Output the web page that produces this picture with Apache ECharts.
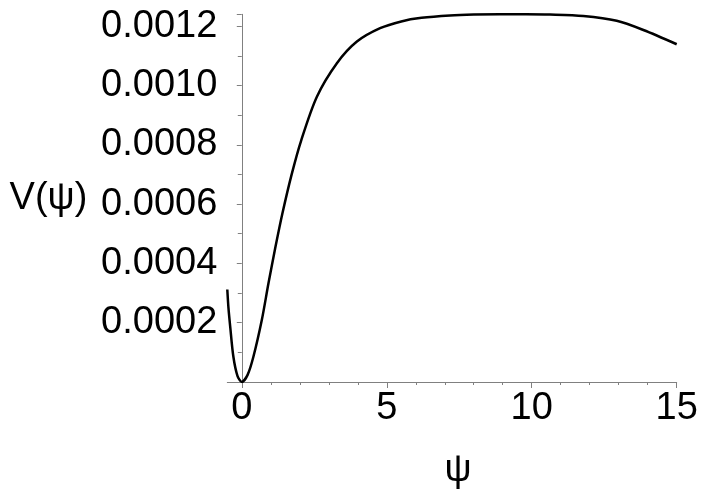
<!DOCTYPE html>
<html>
<head>
<meta charset="utf-8">
<script src="https://cdn.jsdelivr.net/npm/echarts@6/dist/echarts.min.js"></script>
<style>html,body{margin:0;padding:0;background:#fff}#c{width:706px;height:494px}</style>
</head>
<body>
<div id="c"></div>
<script>
// data
const psi = [-0.5, -0.46, -0.40, -0.29, -0.15, 0, 0.2, 0.40, 0.69, 0.92, 1.15, 1.40, 1.72, 2.05, 2.59, 3.28, 3.97, 4.77, 5.5, 6.2, 7.18, 8.0, 8.9, 9.8, 10.63, 11.78, 12.93, 13.85, 15.0];
const V = [0.000312, 0.000250, 0.000187, 0.000085, 0.000021, 0, 0.000024, 0.000085, 0.000209, 0.000333, 0.000450, 0.000568, 0.000700, 0.000815, 0.000962, 0.001075, 0.001148, 0.001193, 0.001216, 0.001228, 0.001236, 0.001239, 0.001240, 0.001240, 0.001239, 0.001234, 0.001218, 0.001187, 0.001139];
const xLabels = [0, 5, 10, 15];
const xMinorTicks = [0,1,2,3,4,5,6,7,8,9,10,11,12,13,14,15];
const yName = 'V(ψ)';
const xName = 'ψ';

const FONT = '"Liberation Sans", Arial, Helvetica, sans-serif';
const AX = '#808080';
const chart = echarts.init(document.getElementById('c'), null, {renderer: 'canvas'});
chart.setOption({
  animation: false,
  backgroundColor: '#fff',
  grid: {left: 227.3, right: 29.3, top: 14.3, bottom: 112, outerBoundsMode: 'none', containLabel: false},
  xAxis: [{
    type: 'value', min: -0.5, max: 15,
    name: xName, nameLocation: 'middle', nameGap: 70,
    nameTextStyle: {fontSize: 38, color: '#000', fontFamily: FONT, padding: [0, 0, 0, 12]},
    axisLine: {show: true, onZero: false, lineStyle: {color: AX, width: 1}},
    axisTick: {show: true, length: 3, customValues: xMinorTicks, lineStyle: {color: AX}},
    axisLabel: {show: true, customValues: xLabels, fontSize: 38, color: '#000', fontFamily: FONT, margin: 8},
    splitLine: {show: false}
  }, {
    type: 'value', min: -0.5, max: 15, position: 'bottom',
    axisLine: {show: false},
    axisTick: {show: true, length: 6, customValues: xLabels, lineStyle: {color: AX}},
    axisLabel: {show: false},
    splitLine: {show: false}
  }],
  yAxis: {
    type: 'value', min: 0, max: 0.00124, interval: 0.0002,
    name: yName, nameLocation: 'middle', nameGap: 140, nameRotate: 0,
    nameTextStyle: {fontSize: 38, color: '#000', fontFamily: FONT},
    axisLine: {show: true, onZero: true, lineStyle: {color: AX, width: 1}},
    axisTick: {show: true, length: 5, lineStyle: {color: AX}},
    minorTick: {show: true, splitNumber: 2, length: 4, lineStyle: {color: AX}},
    axisLabel: {
      fontSize: 38, color: '#000', fontFamily: FONT, margin: 10,
      showMaxLabel: false,
      formatter: v => (v === 0 ? '' : v.toFixed(4))
    },
    splitLine: {show: false}
  },
  series: [{
    type: 'line', xAxisIndex: 0,
    data: psi.map((x, i) => [x, V[i]]),
    smooth: 0.3, showSymbol: false,
    lineStyle: {color: '#000', width: 2.5}
  }]
});
</script>
</body>
</html>
